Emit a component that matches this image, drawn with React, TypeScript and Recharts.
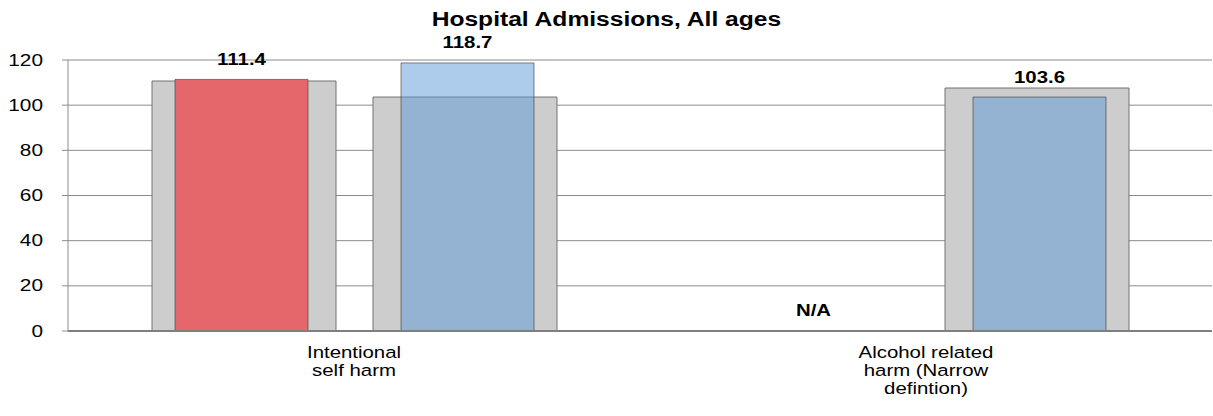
import React from "react";
import { BarChart, Bar, XAxis, YAxis, CartesianGrid, LabelList, ReferenceLine, Cell } from "recharts";

// ---- data ----
const categories = ["Intentional self harm", "Alcohol related harm (Narrow defintion)"];
const categoryLines: string[][] = [
  ["Intentional", "self harm"],
  ["Alcohol related", "harm (Narrow", "defintion)"],
];
const comparatorA: (number | null)[] = [110.7, null];
const comparatorB: (number | null)[] = [103.6, 107.6];
const areaValuesA: (number | null)[] = [111.4, null];
const areaValuesB: (number | null)[] = [118.7, 103.6];
const yTicks = [0, 20, 40, 60, 80, 100, 120];
const separatorTicks = [0, 1, 2];
const title = "Hospital Admissions, All ages";

const fmt = (v: number | null) => (v == null ? "N/A" : v.toFixed(1));

const data = categories.map((c, i) => ({
  category: c,
  greyA: comparatorA[i],
  greyB: comparatorB[i],
  red: areaValuesA[i] ?? 0,
  blue: areaValuesB[i] ?? 0,
  redLabel: fmt(areaValuesA[i]),
  blueLabel: fmt(areaValuesB[i]),
}));

const FONT = "'Liberation Sans', Arial, sans-serif";
const GRID = "#8c8c8c";

const YTick = (props: any) => {
  const { x, y, payload } = props;
  return (
    <text
      transform={`translate(${x},${y}) scale(1.3,1)`}
      x={0}
      y={0}
      textAnchor="end"
      dominantBaseline="central"
      fontSize={16}
      fontFamily={FONT}
      fill="#000"
    >
      {payload.value}
    </text>
  );
};

const XTick = (props: any) => {
  const { x, y, payload } = props;
  const idx = categories.indexOf(payload.value);
  const lines = categoryLines[idx] || [String(payload.value)];
  return (
    <g transform={`translate(${x},${y}) scale(1.2,1)`}>
      <text x={0} y={0} textAnchor="middle" fontSize={17} fontFamily={FONT} fill="#000">
        {lines.map((l, i) => (
          <tspan key={i} x={0} dy={i === 0 ? 27 : 18}>
            {l}
          </tspan>
        ))}
      </text>
    </g>
  );
};

const BarLabel = (props: any) => {
  const { x, y, width, value, viewBox } = props;
  const bx = x ?? viewBox?.x;
  const by = y ?? viewBox?.y;
  const bw = width ?? viewBox?.width;
  if (value == null || bx == null || by == null) return null;
  return (
    <text
      transform={`translate(${Number(bx) + Number(bw) / 2},${Number(by) - 14.5}) scale(1.2,1)`}
      x={0}
      y={0}
      textAnchor="middle"
      fontSize={17}
      fontWeight="bold"
      fontFamily={FONT}
      fill="#000"
    >
      {value}
    </text>
  );
};

export default function App() {
  return (
    <div style={{ position: "absolute", left: 0, top: 0, width: 1213, height: 416, background: "#fff" }}>
      <div
        style={{
          position: "absolute",
          left: 0,
          top: 9,
          width: 1213,
          textAlign: "center",
          fontFamily: FONT,
          fontWeight: "bold",
          fontSize: 20,
          lineHeight: "20px",
          transform: "scaleX(1.23)",
          transformOrigin: "607px 0",
          zIndex: 2,
        }}
      >
        {title}
      </div>
      <BarChart
        width={1213}
        height={416}
        data={data}
        margin={{ top: 60, right: 1, left: 0, bottom: 0 }}
        barGap={37}
      >
        <CartesianGrid horizontal vertical={false} stroke={GRID} xAxisId="bg" />
        <XAxis
          xAxisId="sep"
          type="number"
          domain={[0, 2]}
          ticks={separatorTicks}
          tick={false}
          axisLine={false}
          tickLine={{ stroke: GRID }}
          tickSize={6}
          height={0}
        />
        <XAxis
          xAxisId="bg"
          dataKey="category"
          tick={<XTick />}
          tickLine={false}
          tickSize={0}
          tickMargin={0}
          axisLine={{ stroke: "#7f7f7f", strokeWidth: 2 }}
          height={85}
          interval={0}
        />
        <XAxis xAxisId="fg" dataKey="category" hide />
        <YAxis
          domain={[0, 120]}
          ticks={yTicks}
          width={68}
          tickSize={6}
          tickMargin={19}
          axisLine={{ stroke: GRID }}
          tickLine={{ stroke: GRID }}
          tick={<YTick />}
          interval={0}
        />
        <ReferenceLine xAxisId="sep" x={2} stroke="#b5b5b5" />
        <Bar xAxisId="bg" dataKey="greyA" barSize={184} fill="#cdcdcd" stroke="#727272" isAnimationActive={false} />
        <Bar xAxisId="bg" dataKey="greyB" barSize={184} fill="#cdcdcd" stroke="#727272" isAnimationActive={false} />
        <Bar
          xAxisId="fg"
          dataKey="red"
          barSize={133}
          minPointSize={1}
          fill="#e5676b"
          stroke="#3a3a3a"
          strokeOpacity={0.6}
          isAnimationActive={false}
        >
          {data.map((d, i) => (
            <Cell
              key={i}
              fill={areaValuesA[i] == null ? "none" : "#e5676b"}
              stroke={areaValuesA[i] == null ? "none" : "#3a3a3a"}
            />
          ))}
          <LabelList dataKey="redLabel" content={<BarLabel />} />
        </Bar>
        <Bar xAxisId="fg" dataKey="spacer" barSize={19} fill="none" isAnimationActive={false} />
        <Bar
          xAxisId="fg"
          dataKey="blue"
          barSize={133}
          fill="rgb(91,151,213)"
          fillOpacity={0.5}
          stroke="#3a3a3a"
          strokeOpacity={0.6}
          isAnimationActive={false}
        >
          <LabelList dataKey="blueLabel" content={<BarLabel />} />
        </Bar>
      </BarChart>
    </div>
  );
}
